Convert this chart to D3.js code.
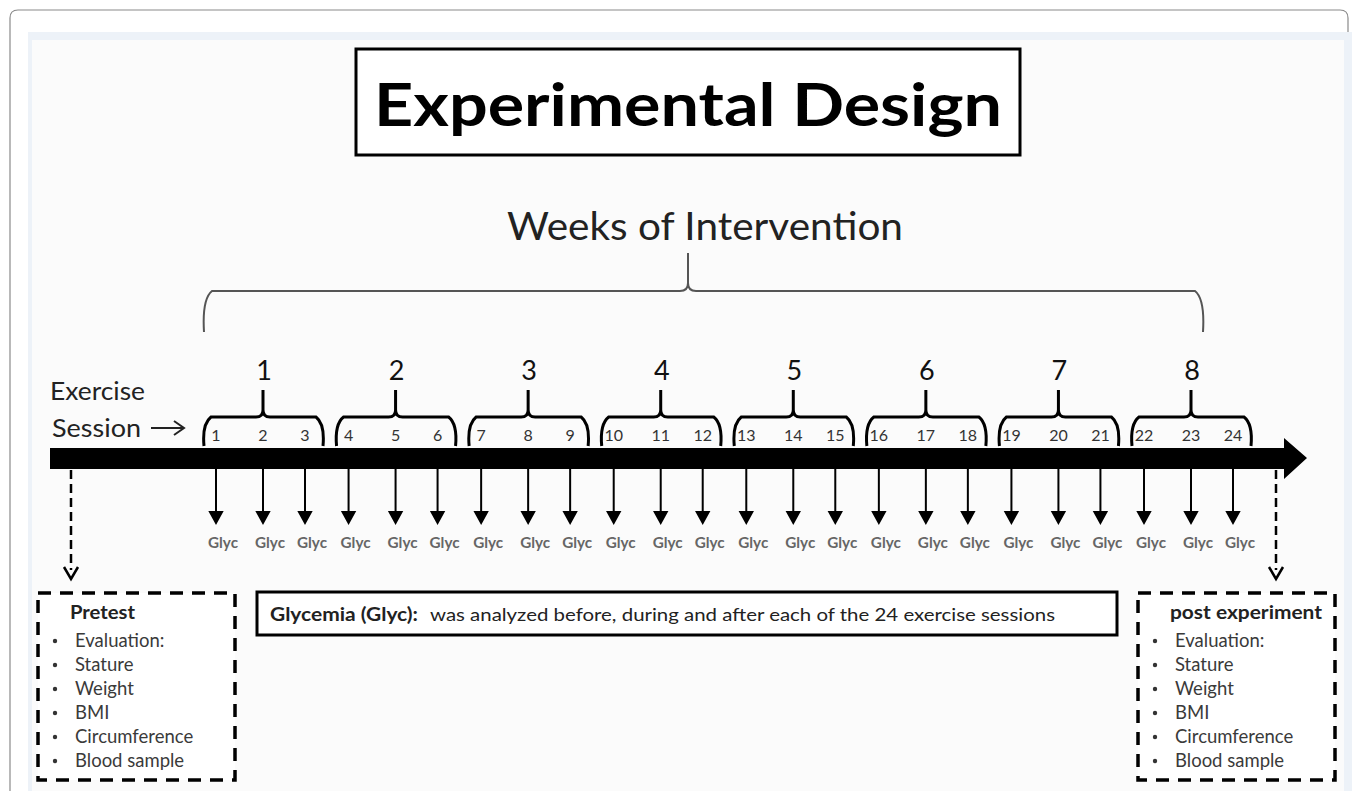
<!DOCTYPE html>
<html>
<head>
<meta charset="utf-8">
<script src="https://cdn.jsdelivr.net/npm/d3@7"></script>
<style>
  body { margin: 0; background: #fff; }
  text { font-family: Lato, "Open Sans", sans-serif; }
</style>
</head>
<body>
<script>
// data
const weeks = [1, 2, 3, 4, 5, 6, 7, 8]
const sessions = d3.range(1, 25)
const sampleLabel = "Glyc"
const pretestItems = ["Evaluation:", "Stature", "Weight", "BMI", "Circumference", "Blood sample"]
const postItems = ["Evaluation:", "Stature", "Weight", "BMI", "Circumference", "Blood sample"]
const titleText = "Experimental Design"
const weeksTitle = "Weeks of Intervention"
const noteBold = "Glycemia (Glyc):"
const noteText = "was analyzed before, during and after each of the 24 exercise sessions"

var w = 1358
var h = 791

var svg = d3.select("body")
            .append("svg")
            .attr("width", w)
            .attr("height", h)

// background frames
svg.append("path")
   .attr("d", "M10,800 L10,18 Q10,10 18,10 L1340,10 Q1348,10 1348,18 L1348,800")
   .attr("fill", "none")
   .attr("stroke", "#8a8a8a")
   .attr("stroke-width", 1.2)
svg.append("rect")
   .attr("x", 28).attr("y", 32).attr("width", 1324).attr("height", 770)
   .attr("fill", "#edf2f8")
svg.append("rect")
   .attr("x", 32).attr("y", 40).attr("width", 1312).attr("height", 760)
   .attr("fill", "#fbfbfb")

// scales
const weekX = d3.scaleLinear().domain([1, 8]).range([263, 1191])
const inWeek = d3.scaleOrdinal().domain([0, 1, 2]).range([-47, 0, 42])
const sessionX = s => weekX(Math.floor((s - 1) / 3) + 1) + inWeek((s - 1) % 3)

// curly brace path
function brace(x1, x2, xm, yTop, yEnd, yCusp, r) {
    return `M${x1},${yEnd} Q${x1 - 2},${yTop + r} ${x1 + r},${yTop} L${xm - r},${yTop} Q${xm},${yTop} ${xm},${yTop - r} L${xm},${yCusp}` +
           ` M${xm},${yTop - r} Q${xm},${yTop} ${xm + r},${yTop} L${x2 - r},${yTop} Q${x2 + 2},${yTop + r} ${x2},${yEnd}`
}

// title
svg.append("rect")
   .attr("x", 356).attr("y", 49).attr("width", 664).attr("height", 106)
   .attr("fill", "#fff").attr("stroke", "#000").attr("stroke-width", 3)
svg.append("text")
   .attr("x", 688).attr("y", 126)
   .attr("text-anchor", "middle")
   .attr("font-size", 60).attr("font-weight", "bold")
   .attr("textLength", 628).attr("lengthAdjust", "spacingAndGlyphs")
   .text(titleText)

svg.append("text")
   .attr("x", 705).attr("y", 240)
   .attr("text-anchor", "middle")
   .attr("font-size", 38).attr("fill", "#222")
   .attr("textLength", 396).attr("lengthAdjust", "spacingAndGlyphs")
   .text(weeksTitle)

// big brace
svg.append("path")
   .attr("d", brace(weekX(1) - 59, weekX(8) + 12, 688, 291, 332, 253, 8))
   .attr("fill", "none").attr("stroke", "#555").attr("stroke-width", 2)

// week braces and numbers
svg.selectAll(".wbrace")
   .data(weeks)
   .enter()
   .append("path")
   .attr("class", "wbrace")
   .attr("d", d => brace(weekX(d) - 59, weekX(d) + 60, weekX(d), 417, 446, 390, 7))
   .attr("fill", "none").attr("stroke", "#000").attr("stroke-width", 3)

svg.selectAll(".wnum")
   .data(weeks)
   .enter()
   .append("text")
   .attr("class", "wnum")
   .attr("x", d => weekX(d) + 1)
   .attr("y", 380)
   .attr("text-anchor", "middle")
   .attr("font-size", 27).attr("fill", "#111")
   .text(d => d)

// exercise session label
svg.append("text").attr("x", 50).attr("y", 400).attr("font-size", 25).attr("fill", "#222")
   .attr("textLength", 95).attr("lengthAdjust", "spacingAndGlyphs").text("Exercise")
svg.append("text").attr("x", 52).attr("y", 437).attr("font-size", 25).attr("fill", "#222")
   .attr("textLength", 89).attr("lengthAdjust", "spacingAndGlyphs").text("Session")
svg.append("path")
   .attr("d", "M151,428 L183,428 M174,421 L184,428 L174,435")
   .attr("fill", "none").attr("stroke", "#222").attr("stroke-width", 2)

// session numbers
svg.selectAll(".snum")
   .data(sessions)
   .enter()
   .append("text")
   .attr("class", "snum")
   .attr("x", d => sessionX(d))
   .attr("y", 441)
   .attr("text-anchor", "middle")
   .attr("font-size", 16).attr("fill", "#333")
   .text(d => d)

// main timeline arrow
svg.append("path")
   .attr("d", "M50,448 L1284,448 L1284,438 L1307,458 L1284,479 L1284,469 L50,469 Z")
   .attr("fill", "#000")

// down arrows to samples
svg.selectAll(".sarrow")
   .data(sessions)
   .enter()
   .append("path")
   .attr("class", "sarrow")
   .attr("d", d => `M${sessionX(d)},469 L${sessionX(d)},512 M${sessionX(d) - 6},512 L${sessionX(d) + 6},512 L${sessionX(d)},523 Z`)
   .attr("fill", "#000").attr("stroke", "#000").attr("stroke-width", 2)

svg.selectAll(".glyc")
   .data(sessions)
   .enter()
   .append("text")
   .attr("class", "glyc")
   .attr("x", d => sessionX(d) + 7)
   .attr("y", 548)
   .attr("text-anchor", "middle")
   .attr("font-size", 16).attr("font-weight", "bold").attr("fill", "#666")
   .attr("textLength", 30).attr("lengthAdjust", "spacingAndGlyphs")
   .text(sampleLabel)

// dashed arrows to evaluation boxes
;[71, 1276].forEach(x => {
    svg.append("line")
       .attr("x1", x).attr("x2", x).attr("y1", 470).attr("y2", 570)
       .attr("stroke", "#000").attr("stroke-width", 2.5)
       .attr("stroke-dasharray", "9 5")
    svg.append("path")
       .attr("d", `M${x - 7},567 L${x},579 L${x + 7},567`)
       .attr("fill", "none").attr("stroke", "#000").attr("stroke-width", 2.5)
})

// evaluation boxes
function evalBox(x, title, items, titleLen) {
    svg.append("rect")
       .attr("x", x).attr("y", 593).attr("width", 197).attr("height", 187)
       .attr("fill", "#fff").attr("stroke", "#000").attr("stroke-width", 3.5)
       .attr("stroke-dasharray", "13 9")
    svg.append("text")
       .attr("x", x + 32).attr("y", 619)
       .attr("font-size", 18).attr("font-weight", "bold").attr("fill", "#222")
       .attr("textLength", titleLen).attr("lengthAdjust", "spacingAndGlyphs")
       .text(title)
    const g = svg.append("g")
    g.selectAll("text.item")
     .data(items)
     .enter()
     .append("text")
     .attr("class", "item")
     .attr("x", x + 37)
     .attr("y", (d, i) => 647 + i * 24)
     .attr("font-size", 18.5).attr("fill", "#3a3a3a")
     .text(d => d)
    g.selectAll("circle")
     .data(items)
     .enter()
     .append("circle")
     .attr("cx", x + 17)
     .attr("cy", (d, i) => 641 + i * 24)
     .attr("r", 2.2)
     .attr("fill", "#333")
}
evalBox(38, "Pretest", pretestItems, 65)
evalBox(1138, "post experiment", postItems, 152)

// glycemia note
svg.append("rect")
   .attr("x", 257).attr("y", 592).attr("width", 860).attr("height", 43)
   .attr("fill", "#fff").attr("stroke", "#000").attr("stroke-width", 3)
svg.append("text")
   .attr("x", 270).attr("y", 621)
   .attr("font-size", 18).attr("font-weight", "bold").attr("fill", "#222")
   .attr("textLength", 148).attr("lengthAdjust", "spacingAndGlyphs")
   .text(noteBold)
svg.append("text")
   .attr("x", 430).attr("y", 621)
   .attr("font-size", 18).attr("fill", "#222")
   .attr("textLength", 625).attr("lengthAdjust", "spacingAndGlyphs")
   .text(noteText)
</script>
</body>
</html>
